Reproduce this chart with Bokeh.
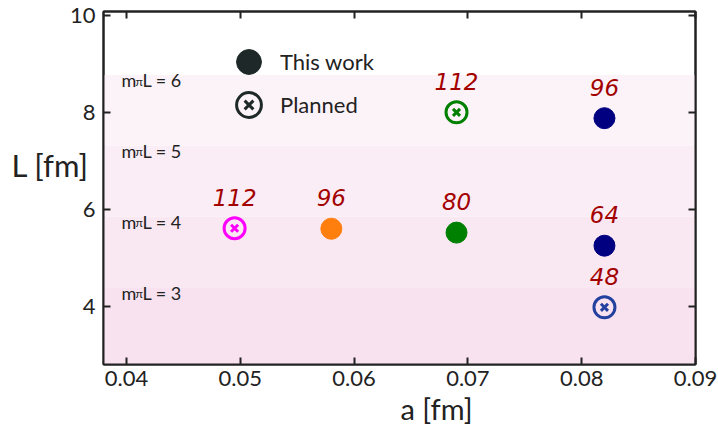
from bokeh.plotting import figure
from bokeh.models import (Range1d, LinearAxis, FixedTicker, Label, BoxAnnotation,
                          Legend, LegendItem, ColumnDataSource, Title)
from bokeh.core.properties import value
from bokeh.embed import file_html
from bokeh.resources import INLINE

# ---------------- data ----------------
done_a = [0.058, 0.069, 0.082, 0.082]
done_L = [5.60, 5.52, 7.88, 5.25]
done_N = ["96", "80", "96", "64"]
done_colors = ["#ff7f0e", "#008000", "#000080", "#000080"]

plan_a = [0.0495, 0.069, 0.082]
plan_L = [5.61, 8.00, 3.98]
plan_N = ["112", "112", "48"]
plan_colors = ["#ff00ff", "#008000", "#2541a0"]

band_n = ["3", "4", "5", "6"]
band_L = [4.38, 5.85, 7.31, 8.77]
band_colors = ["#f8e2ef", "#f9e7f2", "#fbedf5", "#fcf3f8"]

x_ticks = [0.04, 0.05, 0.06, 0.07, 0.08, 0.09]
x_tick_labels = ["0.04", "0.05", "0.06", "0.07", "0.08", "0.09"]
y_ticks = [4, 6, 8, 10]
y_tick_labels = ["4", "6", "8", "10"]

legend_labels = ["This work", "Planned"]
x_title = "a [fm]"
y_title = "L [fm]"

INK = "#222222"
DARK = "#1e2828"
FONT = "Lato"
NAN = float("nan")

p = figure(width=718, height=429, x_range=Range1d(0.03798, 0.09), y_range=Range1d(2.80, 10.08),
           output_backend="svg", toolbar_location=None,
           min_border_left=103, min_border_right=23, min_border_top=11, min_border_bottom=65)
p.grid.visible = False
p.outline_line_color = INK
p.outline_line_width = 2
p.background_fill_color = "white"
p.border_fill_color = "white"

# bands
lower = [None] + band_L[:-1]
for lo, hi, c in zip(lower, band_L, band_colors):
    p.add_layout(BoxAnnotation(bottom=lo, top=hi, fill_color=c, fill_alpha=1.0,
                               line_color=None, level="underlay"))

# band labels  m_pi L = n
for n, L in zip(band_n, band_L):
    p.add_layout(Label(x=18, x_units="screen", y=L, y_units="data", text="m",
                       y_offset=-5, text_font=FONT, text_font_size="18px",
                       text_color=INK, text_baseline="alphabetic"))
    p.add_layout(Label(x=32, x_units="screen", y=L, y_units="data", text="π",
                       y_offset=-6, text_font=FONT, text_font_size="12px",
                       text_color=INK, text_baseline="alphabetic"))
    p.add_layout(Label(x=39, x_units="screen", y=L, y_units="data", text="L = " + n,
                       y_offset=-5, text_font=FONT, text_font_size="18px",
                       text_color=INK, text_baseline="alphabetic"))

# axes
def style_axis(ax, ticks, labels, show_labels):
    ax.ticker = FixedTicker(ticks=ticks)
    ax.axis_line_color = INK
    ax.axis_line_width = 2
    ax.major_tick_line_color = INK
    ax.major_tick_line_width = 2
    ax.major_tick_in = 7
    ax.major_tick_out = 0
    ax.minor_tick_line_color = None
    if show_labels:
        ax.major_label_overrides = {t: l for t, l in zip(ticks, labels)}
        ax.major_label_text_font = FONT
        ax.major_label_text_font_size = "22px"
        ax.major_label_text_color = INK
    else:
        ax.major_label_text_font_size = "1px"
        ax.major_label_text_color = None
        ax.major_label_standoff = 0

xa = p.xaxis[0]
ya = p.yaxis[0]
style_axis(xa, x_ticks, x_tick_labels, True)
xa.major_label_standoff = 6
style_axis(ya, y_ticks, y_tick_labels, True)
ya.major_label_standoff = 8

top_ax = LinearAxis()
style_axis(top_ax, x_ticks, x_tick_labels, False)
p.add_layout(top_ax, "above")
right_ax = LinearAxis()
style_axis(right_ax, y_ticks, y_tick_labels, False)
p.add_layout(right_ax, "right")

# x title: starts at the middle of the frame
p.add_layout(Title(text=x_title, align="left", offset=297, standoff=0,
                   text_font=FONT, text_font_size="29px", text_font_style="normal",
                   text_color=INK), "below")

# y title: horizontal, left of the axis, raised by an empty second line
ya.axis_label = y_title + "\n\u00a0"
ya.axis_label_text_font = FONT
ya.axis_label_text_font_size = "31px"
ya.axis_label_text_font_style = "normal"
ya.axis_label_text_color = INK
ya.axis_label_standoff = -22
try:
    ya.axis_label_orientation = "horizontal"
except Exception:
    pass

# points
done_src = ColumnDataSource(dict(a=done_a, L=done_L, N=done_N, c=done_colors))
plan_src = ColumnDataSource(dict(a=plan_a, L=plan_L, N=plan_N, c=plan_colors))

p.scatter("a", "L", source=done_src, size=21, fill_color="c", line_color="c")
p.scatter("a", "L", source=plan_src, size=21, fill_color=None, line_color="c", line_width=3)
p.scatter("a", "L", source=plan_src, marker="x", size=10, line_color="c", line_width=3)

for src in (done_src, plan_src):
    p.text("a", "L", text="N", source=src, y_offset=-31, text_align="center",
           text_baseline="middle", text_font=value("DejaVu Sans"),
           text_font_style="italic", text_font_size="23px", text_color="#a30000")

# legend (renderers hold an undrawable point; only their legend glyphs show)
r1 = p.ellipse(x=[NAN], y=[NAN], width=25, height=25, width_units="screen",
               height_units="screen", fill_color=DARK, line_color=DARK)
r2 = p.ellipse(x=[NAN], y=[NAN], width=25, height=25, width_units="screen",
               height_units="screen", fill_color=None, line_color=DARK, line_width=3)
r3 = p.scatter(x=[NAN], y=[NAN], marker="x", size=10, line_color=DARK, line_width=3)
legend = Legend(items=[LegendItem(label=legend_labels[0], renderers=[r1]),
                       LegendItem(label=legend_labels[1], renderers=[r2, r3])],
                location=(130, 244), padding=0, margin=0, spacing=12,
                glyph_width=31, glyph_height=31, label_standoff=16,
                border_line_alpha=0, background_fill_alpha=0,
                label_text_font=FONT, label_text_font_size="22px", label_text_color=INK)
p.add_layout(legend)

open("out.html", "w").write(file_html(p, INLINE))
